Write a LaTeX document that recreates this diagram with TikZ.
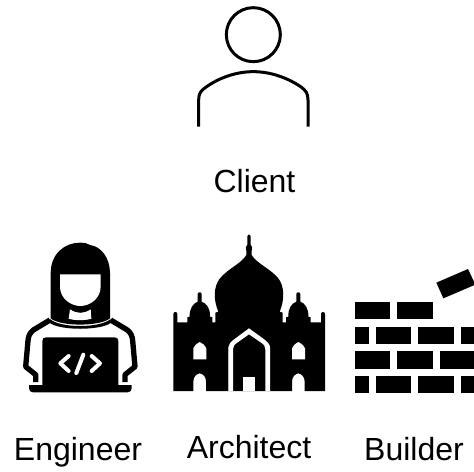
\documentclass[tikz,border=0pt]{standalone}
\usepackage{fontspec}
\setmainfont{Liberation Sans}
\tikzset{
  zoomed/.style={x=0.25pt,y=-0.25pt},
  lab/.style={font=\fontsize{24pt}{28pt}\selectfont,text=black,inner sep=0pt,anchor=base},
  ink/.style={fill=black,draw=none},
  paper/.style={fill=white,draw=none},
  outline/.style={draw=black,line width=2.25pt,fill=none},
  brick/.style={fill=black,draw=none}
}
\begin{document}
\begin{tikzpicture}[x=0.75pt,y=-0.75pt]
\path[use as bounding box] (0,0) rectangle (474,471);
% Client
\begin{scope}[shift={(180,0)},zoomed]
\draw[outline] (220,104) circle[radius=81];
\draw[outline,line cap=butt] (56,380) -- (56,300) .. controls (56,280) and (62,272) .. (80,260)
  .. controls (120,232) and (170,215) .. (220,215)
  .. controls (270,215) and (320,232) .. (362,260)
  .. controls (378,272) and (384,280) .. (384,300) -- (384,380);
\end{scope}
% Engineer
\begin{scope}[shift={(0,220)},zoomed]
\fill[ink] (152,295) -- (152,160) .. controls (152,100) and (195,68) .. (240,68)
  .. controls (255,68) and (262,70) .. (270,75)
  .. controls (305,80) and (330,115) .. (330,160) -- (330,295)
  .. controls (300,320) and (180,320) .. (152,295) -- cycle;
\fill[paper] (180,163) -- (302,163) -- (302,200) .. controls (302,235) and (270,258) .. (241,258)
  .. controls (212,258) and (180,235) .. (180,200) -- cycle;
\fill[paper] (210,268) .. controls (230,282) and (252,282) .. (272,268) -- (274,296)
  .. controls (255,302) and (225,302) .. (206,296) -- cycle;
\draw[black,line width=4pt,line join=round] (150,300) -- (100,330) .. controls (88,340) and (85,350) .. (84,362)
  -- (77,440) -- (107,464) -- (107,486);
\draw[black,line width=4pt,line join=round] (332,300) -- (382,330) .. controls (394,340) and (397,350) .. (398,362)
  -- (405,440) -- (375,464) -- (375,486);
\fill[ink] (150,297) .. controls (180,325) and (300,325) .. (332,297) -- (332,309)
  .. controls (300,332) and (180,332) .. (150,309) -- cycle;
\fill[ink] (138,352) -- (344,352) .. controls (351,352) and (355,356) .. (355,363) -- (355,495) -- (127,495) -- (127,363)
  .. controls (127,356) and (131,352) .. (138,352) -- cycle;
\fill[ink] (87,495) -- (395,495) -- (395,505) .. controls (395,512) and (390,517) .. (383,517)
  -- (99,517) .. controls (92,517) and (87,512) .. (87,505) -- cycle;
\draw[white,line width=3pt,line cap=round,line join=round] (206,408) -- (181,430) -- (206,453);
\draw[white,line width=3pt,line cap=round,line join=round] (275,408) -- (300,430) -- (275,453);
\draw[white,line width=3pt,line cap=round] (250,404) -- (229,459);
\end{scope}
% Architect
\begin{scope}[shift={(160,220)},zoomed]
\fill[ink] (40,513) -- (40,282) .. controls (40,274) and (52,274) .. (52,282) -- (52,307) -- (82,307) -- (82,292)
  -- (89,290) .. controls (88,265) and (100,250) .. (113,245) -- (113,222) .. controls (113,215) and (125,215) .. (125,222) -- (125,245)
  .. controls (140,250) and (151,265) .. (150,290) -- (157,292) -- (157,307) -- (166,307) -- (166,278) -- (175,275)
  .. controls (160,240) and (160,200) .. (180,175)
  .. controls (205,145) and (245,130) .. (259,105) -- (259,93) .. controls (255,85) and (258,78) .. (262,74)
  -- (262,48) .. controls (262,41) and (272,41) .. (272,48) -- (272,74) .. controls (276,78) and (279,85) .. (275,93) -- (275,105)
  .. controls (289,130) and (330,145) .. (355,175)
  .. controls (374,200) and (374,240) .. (359,275) -- (368,278) -- (368,307) -- (378,307) -- (378,292) -- (385,290)
  .. controls (384,265) and (395,250) .. (409,245) -- (409,222) .. controls (409,215) and (421,215) .. (421,222) -- (421,245)
  .. controls (435,250) and (446,265) .. (445,290) -- (452,292) -- (452,307) -- (483,307) -- (483,282)
  .. controls (483,274) and (495,274) .. (495,282) -- (495,513) -- (434,513) -- (434,485)
  .. controls (434,470) and (425,462) .. (415,460) .. controls (405,462) and (396,470) .. (396,485) -- (396,513)
  -- (330,513) -- (330,385) -- (267,325) -- (205,385) -- (205,513)
  -- (138,513) -- (138,485) .. controls (138,470) and (130,462) .. (119,460) .. controls (109,462) and (100,470) .. (100,485) -- (100,513)
  -- cycle;
\fill[ink] (205,513) -- (205,380) -- (267,325) -- (330,380) -- (330,513) -- cycle;
\fill[paper] (205,513) -- (205,382) .. controls (205,372) and (212,366) .. (225,356) -- (267,325)
  -- (310,356) .. controls (322,366) and (330,372) .. (330,382) -- (330,513) -- (316,513) -- (316,388)
  .. controls (316,378) and (312,374) .. (302,367) -- (267,343) -- (233,367)
  .. controls (223,374) and (219,378) .. (219,388) -- (219,513) -- cycle;
\fill[paper] (250,513) -- (250,471) -- (284,471) -- (284,513) -- cycle;
\fill[paper] (100,418) -- (100,385) .. controls (105,375) and (112,369) .. (119,366) .. controls (127,369) and (134,375) .. (139,385) -- (139,418) -- cycle;
\fill[paper] (396,418) -- (396,385) .. controls (401,375) and (408,369) .. (415,366) .. controls (423,369) and (430,375) .. (435,385) -- (435,418) -- cycle;
\end{scope}
% Builder
\begin{scope}[shift={(330,240)},zoomed]
\clip (0,0) rectangle (432,510);
\fill[brick] (75,185) rectangle (181,238);
\fill[brick] (202,185) rectangle (308,238);
\fill[brick] (75,260) rectangle (117,312);
\fill[brick] (138,260) rectangle (244,312);
\fill[brick] (265,260) rectangle (371,312);
\fill[brick] (392,260) rectangle (440,312);
\fill[brick] (75,334) rectangle (181,386);
\fill[brick] (202,334) rectangle (308,386);
\fill[brick] (329,334) rectangle (440,386);
\fill[brick] (75,407) rectangle (117,460);
\fill[brick] (138,407) rectangle (244,460);
\fill[brick] (265,407) rectangle (371,460);
\fill[brick] (392,407) rectangle (440,460);
\fill[brick] (319,128) -- (414,87) -- (436,134) -- (340,175) -- cycle;
\end{scope}
% Labels
\node[lab] (client) at (254.5,192) {Client};
\node[lab] (engineer) at (78,460) {Engineer};
\node[lab] (architect) at (249,458) {Architect};
\node[lab] (builder) at (414,460) {Builder};
\end{tikzpicture}
\end{document}
